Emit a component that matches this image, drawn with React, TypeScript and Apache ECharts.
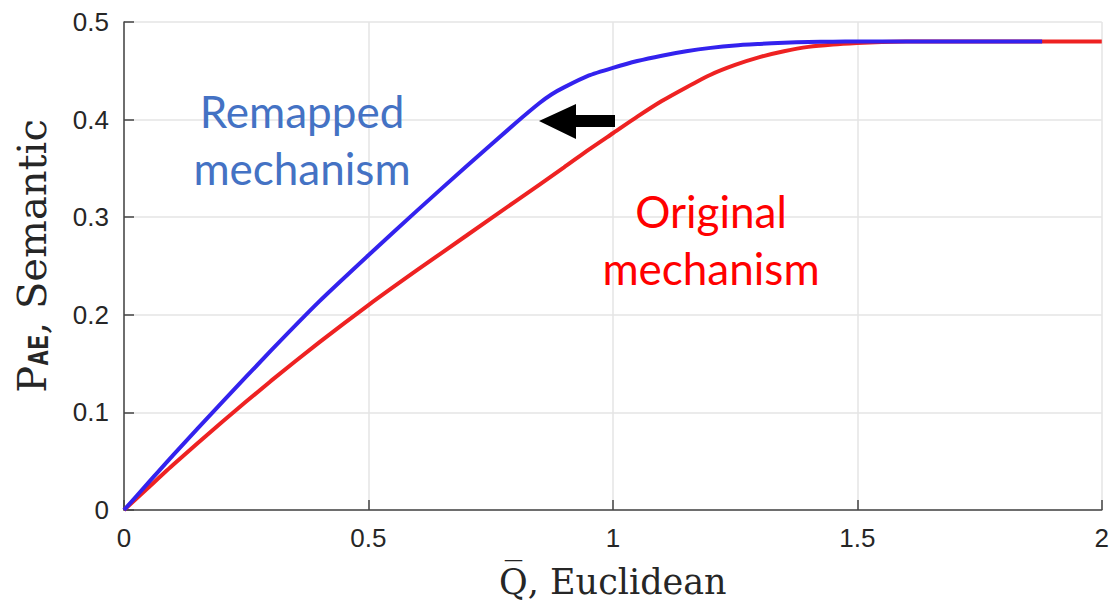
import React, { useEffect, useRef } from "react";
import * as echarts from "echarts";

const xTicks = [0, 0.5, 1, 1.5, 2];
const yTicks = [0, 0.1, 0.2, 0.3, 0.4, 0.5];

const xOriginal = [0, 0.05, 0.1, 0.2, 0.3, 0.4, 0.5, 0.6, 0.7, 0.8, 0.9, 0.95, 1.0, 1.05, 1.1, 1.15, 1.2, 1.25, 1.3, 1.35, 1.4, 1.45, 1.5, 1.55, 1.6, 1.7, 2.0];
const yOriginal = [0, 0.023, 0.046, 0.09, 0.132, 0.172, 0.21, 0.246, 0.281, 0.316, 0.351, 0.369, 0.386, 0.403, 0.419, 0.433, 0.446, 0.456, 0.464, 0.47, 0.4745, 0.477, 0.4785, 0.4795, 0.4799, 0.48, 0.48];

const xRemapped = [0, 0.05, 0.1, 0.2, 0.3, 0.4, 0.5, 0.6, 0.7, 0.8, 0.85, 0.875, 0.9, 0.95, 1.0, 1.05, 1.1, 1.15, 1.2, 1.25, 1.3, 1.35, 1.4, 1.45, 1.5, 1.6, 1.878];
const yRemapped = [0, 0.028, 0.056, 0.11, 0.163, 0.214, 0.261, 0.307, 0.352, 0.396, 0.417, 0.426, 0.433, 0.445, 0.453, 0.46, 0.4655, 0.47, 0.4735, 0.476, 0.4775, 0.4788, 0.4795, 0.4798, 0.48, 0.48, 0.48];

const labelRemapped = "Remapped\nmechanism";
const labelOriginal = "Original\nmechanism";

export default function App() {
  const ref = useRef<HTMLDivElement>(null);
  useEffect(() => {
    if (!ref.current) return;
    const chart = echarts.init(ref.current, null, { renderer: "svg" });
    const axisColor = "#444444";
    const tickFont = { fontFamily: "Liberation Sans", fontSize: 26, color: "#262626" };
    chart.setOption({
      animation: false,
      backgroundColor: "#ffffff",
      grid: { left: 124, right: 6, top: 22, bottom: 95 },
      xAxis: {
        type: "value",
        min: xTicks[0],
        max: xTicks[xTicks.length - 1],
        interval: 0.5,
        name: "Q\u0305, Euclidean",
        nameLocation: "middle",
        nameGap: 54,
        nameTextStyle: { fontFamily: "DejaVu Serif", fontSize: 35, color: "#262626" },
        axisLine: { show: true, lineStyle: { color: axisColor, width: 1.5 } },
        axisTick: { show: true, inside: true, length: 10, lineStyle: { color: axisColor, width: 1.5 } },
        axisLabel: { ...tickFont, margin: 15 },
        splitLine: { show: true, lineStyle: { color: "#e4e4e4", width: 1.5 } },
      },
      yAxis: {
        type: "value",
        min: yTicks[0],
        max: yTicks[yTicks.length - 1],
        interval: 0.1,
        name: "{p|P}{s|AE}{p|, Semantic}",
        nameLocation: "middle",
        nameGap: 72,
        nameTextStyle: {
          color: "#262626",
          padding: [0, 0, 0, 20],
          rich: {
            p: { fontFamily: "DejaVu Serif", fontSize: 40, color: "#262626" },
            s: { fontFamily: "DejaVu Sans Mono", fontWeight: "bold", fontSize: 26, color: "#262626", verticalAlign: "bottom" },
          },
        },
        axisLine: { show: true, lineStyle: { color: axisColor, width: 1.5 } },
        axisTick: { show: true, inside: true, length: 10, lineStyle: { color: axisColor, width: 1.5 } },
        axisLabel: { ...tickFont, margin: 15 },
        splitLine: { show: true, lineStyle: { color: "#e4e4e4", width: 1.5 } },
      },
      series: [
        {
          name: "Original mechanism",
          type: "line",
          data: xOriginal.map((x, i) => [x, yOriginal[i]]),
          showSymbol: false,
          smooth: 0.2,
          lineStyle: { color: "#EE2222", width: 4 },
          itemStyle: { color: "#EE2222" },
          z: 2,
        },
        {
          name: "Remapped mechanism",
          type: "line",
          data: xRemapped.map((x, i) => [x, yRemapped[i]]),
          showSymbol: false,
          smooth: 0.2,
          lineStyle: { color: "#3322EE", width: 4 },
          itemStyle: { color: "#3322EE" },
          z: 3,
        },
      ],
      graphic: [
        {
          type: "text",
          x: 302,
          y: 139,
          z: 10,
          style: {
            text: labelRemapped,
            align: "center",
            verticalAlign: "middle",
            fontFamily: "Lato",
            fontSize: 44,
            lineHeight: 57,
            fill: "#4472C4",
          },
        },
        {
          type: "text",
          x: 711,
          y: 239,
          z: 10,
          style: {
            text: labelOriginal,
            align: "center",
            verticalAlign: "middle",
            fontFamily: "Lato",
            fontSize: 44,
            lineHeight: 57,
            fill: "#FF0000",
          },
        },
        {
          type: "polygon",
          z: 10,
          shape: {
            points: [
              [539, 121],
              [576, 104],
              [576, 115],
              [615, 115],
              [615, 127],
              [576, 127],
              [576, 139],
            ],
          },
          style: { fill: "#000000" },
        },
      ],
    });
    return () => chart.dispose();
  }, []);
  return (
    <div
      ref={ref}
      style={{ position: "absolute", left: 0, top: 0, width: 1112, height: 605, background: "#fff" }}
    />
  );
}
